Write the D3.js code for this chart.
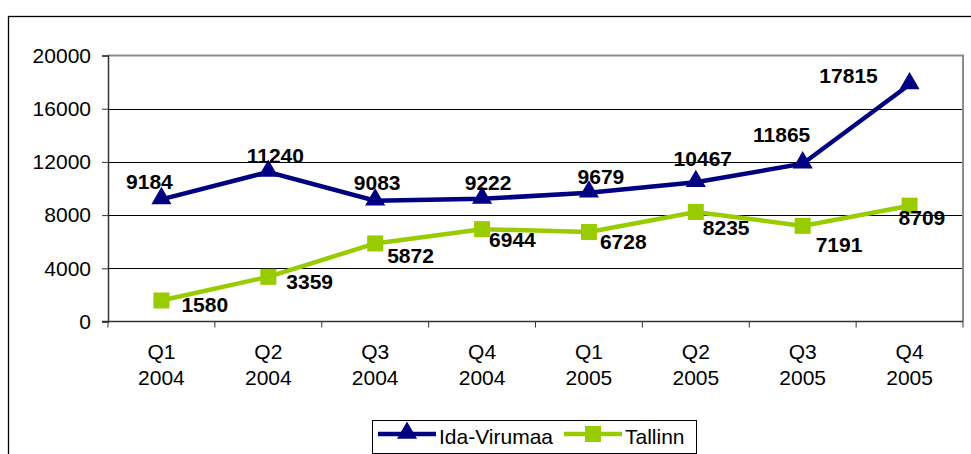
<html>
<script src='https://d3js.org/d3.v7.min.js'></script>
<style>
body {margin: 0; background: white;}
text {font-family: Arial, 'Liberation Sans', sans-serif;}
</style>
<body onload='init()'>
<svg width=971 height=454></svg>
<script>
// data
const quarters = ['Q1', 'Q2', 'Q3', 'Q4', 'Q1', 'Q2', 'Q3', 'Q4'];
const years = ['2004', '2004', '2004', '2004', '2005', '2005', '2005', '2005'];
const idaVirumaa = [9184, 11240, 9083, 9222, 9679, 10467, 11865, 17815];
const tallinn = [1580, 3359, 5872, 6944, 6728, 8235, 7191, 8709];
const yTicks = [0, 4000, 8000, 12000, 16000, 20000];

// label nudges (Excel moved them by hand)
const idaLabelDx = [-12, 7, 2, 6, 12, 7, -21, -61];
const idaLabelDy = [-10, -9, -11, -9, -9, -16, -22, -2];
const talLabelDx = [20, 18, 12, 7, 11, 7, 13, -11];
const talLabelDy = [12, 12, 20, 18, 17, 23, 26, 19];

function init() {
  var svg = d3.select('svg');
  var left = 108, right = 963, top = 55.5, bottom = 321.5;
  var fs = 21;

  // outer chart frame
  svg.append('rect')
    .attr('x', 8.5).attr('y', 16.5).attr('width', 980).attr('height', 460)
    .attr('fill', 'white').attr('stroke', 'black').attr('stroke-width', 1.3);

  var idx = d3.range(quarters.length);
  var x = d3.scaleBand(idx, [left, right]);
  var y = d3.scaleLinear([0, 20000], [bottom, top]);
  var cx = function(i) {return x(i) + x.bandwidth() / 2;};

  // grid lines
  svg.append('g').selectAll('line')
    .data(yTicks.slice(1, -1))
    .enter().append('line')
      .attr('x1', left).attr('x2', right)
      .attr('y1', function(d) {return Math.round(y(d)) + 0.5;})
      .attr('y2', function(d) {return Math.round(y(d)) + 0.5;})
      .attr('stroke', 'black').attr('stroke-width', 1);

  // plot area border (top and right, grey)
  svg.append('path')
    .attr('d', 'M' + left + ',' + top + 'H' + right + 'V' + bottom)
    .attr('fill', 'none').attr('stroke', '#8c8c8c').attr('stroke-width', 2);

  // y axis
  var yAxis = svg.append('g')
    .attr('transform', 'translate(' + left + ',0)')
    .call(d3.axisLeft(y).tickValues(yTicks).tickSize(6).tickPadding(11).tickFormat(d3.format('d')));
  yAxis.select('.domain').attr('stroke', '#333').attr('stroke-width', 1.5);
  yAxis.selectAll('.tick line').attr('stroke', '#333');
  yAxis.selectAll('text').attr('font-size', fs).attr('fill', 'black')
    .attr('font-family', 'Arial, Liberation Sans, sans-serif');

  // x axis: ticks between categories
  var xAxisG = svg.append('g');
  xAxisG.append('line')
    .attr('x1', left - 6).attr('x2', right)
    .attr('y1', bottom).attr('y2', bottom)
    .attr('stroke', '#333').attr('stroke-width', 1.5);
  xAxisG.selectAll('.xt')
    .data(idx.concat([idx.length]))
    .enter().append('line')
      .attr('x1', function(i) {return left + i * x.step();})
      .attr('x2', function(i) {return left + i * x.step();})
      .attr('y1', bottom).attr('y2', bottom + 6)
      .attr('stroke', '#333');
  var catLabels = xAxisG.selectAll('.cat')
    .data(idx)
    .enter().append('text')
      .attr('text-anchor', 'middle')
      .attr('font-size', fs);
  catLabels.append('tspan')
    .attr('x', cx).attr('y', 359)
    .text(function(i) {return quarters[i];});
  catLabels.append('tspan')
    .attr('x', cx).attr('y', 385)
    .text(function(i) {return years[i];});

  var line = function(vals) {
    return d3.line().x(function(d, i) {return cx(i);}).y(function(d) {return y(d);})(vals);
  };

  // Tallinn series
  svg.append('path')
    .attr('d', line(tallinn))
    .attr('fill', 'none').attr('stroke', '#99cc00').attr('stroke-width', 4.5);
  svg.append('g').selectAll('rect')
    .data(tallinn)
    .enter().append('rect')
      .attr('x', function(d, i) {return cx(i) - 8;})
      .attr('y', function(d) {return y(d) - 8;})
      .attr('width', 16).attr('height', 16)
      .attr('fill', '#99cc00');

  // Ida-Virumaa series
  var tri = d3.symbol().type(d3.symbolTriangle).size(175);
  svg.append('path')
    .attr('d', line(idaVirumaa))
    .attr('fill', 'none').attr('stroke', '#000080').attr('stroke-width', 4.5);
  svg.append('g').selectAll('path')
    .data(idaVirumaa)
    .enter().append('path')
      .attr('d', tri)
      .attr('transform', function(d, i) {return 'translate(' + cx(i) + ',' + (y(d) - 1) + ')';})
      .attr('fill', '#000080');

  // data labels
  svg.append('g').selectAll('text')
    .data(idaVirumaa)
    .enter().append('text')
      .attr('x', function(d, i) {return cx(i) + idaLabelDx[i];})
      .attr('y', function(d, i) {return y(d) + idaLabelDy[i];})
      .attr('text-anchor', 'middle')
      .attr('font-size', fs).attr('font-weight', 'bold')
      .text(function(d) {return d;});
  svg.append('g').selectAll('text')
    .data(tallinn)
    .enter().append('text')
      .attr('x', function(d, i) {return cx(i) + talLabelDx[i];})
      .attr('y', function(d, i) {return y(d) + talLabelDy[i];})
      .attr('font-size', fs).attr('font-weight', 'bold')
      .text(function(d) {return d;});

  // legend
  var lg = svg.append('g');
  lg.append('rect')
    .attr('x', 372.5).attr('y', 420.5).attr('width', 324).attr('height', 33)
    .attr('fill', 'white').attr('stroke', 'black').attr('stroke-width', 1);
  lg.append('line')
    .attr('x1', 378).attr('x2', 436).attr('y1', 434).attr('y2', 434)
    .attr('stroke', '#000080').attr('stroke-width', 4.5);
  lg.append('path')
    .attr('d', tri)
    .attr('transform', 'translate(407,433)')
    .attr('fill', '#000080');
  lg.append('text')
    .attr('x', 439).attr('y', 444)
    .attr('font-size', fs)
    .text('Ida-Virumaa');
  lg.append('line')
    .attr('x1', 564).attr('x2', 622).attr('y1', 434).attr('y2', 434)
    .attr('stroke', '#99cc00').attr('stroke-width', 4.5);
  lg.append('rect')
    .attr('x', 585).attr('y', 426).attr('width', 16).attr('height', 16)
    .attr('fill', '#99cc00');
  lg.append('text')
    .attr('x', 625).attr('y', 444)
    .attr('font-size', fs)
    .text('Tallinn');
}
</script>
</body>
</html>
